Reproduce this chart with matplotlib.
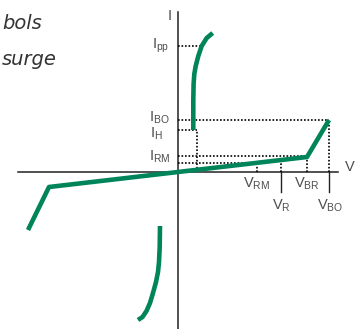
import matplotlib
matplotlib.use("Agg")
import matplotlib.pyplot as plt

# I-V characteristic (arbitrary units, origin at axis crossing)
v_main = [-150, -129, 129, 151]
i_main = [-58, -15, 15, 52]

v_upper = [15.3, 15.3, 15.6, 16.3, 17.7, 20.3, 23.7, 28.7, 34.7]
i_upper = [42, 72, 88, 98, 106, 116, 126, 134, 139]

v_lower = [-18, -18.3, -19.0, -20.0, -22.0, -25.0, -28.0, -31.5, -35.5, -40]
i_lower = [-54, -75, -90, -100, -110, -121, -131, -139, -145, -148]

# characteristic points
I_PP, I_BO, I_H, I_RM, I_R = 126, 52, 42, 16, 9
V_H, V_RM, V_R, V_BR, V_BO = 19, 79, 103, 129, 151

green = "#00845a"
grey = "#4d4d4d"

fig = plt.figure(figsize=(3.58, 3.29), dpi=100)
ax = fig.add_axes([0, 0, 1, 1])
ax.set_xlim(-178, 180)
ax.set_ylim(-157, 172)
ax.axis("off")

# axes
ax.plot([-160, 160], [0, 0], color="#222222", lw=1.1, zorder=2)
ax.plot([0, 0], [-157, 160], color="#222222", lw=1.1, zorder=2)

# little solid ticks under V axis
for v in (V_R, V_BO):
    ax.plot([v, v], [0, -20], color="#222222", lw=1.0, zorder=2)

dot = dict(color="black", lw=1.2, dashes=(1, 1.1), zorder=3)
# horizontal dotted guides
ax.plot([0, 23], [I_PP, I_PP], **dot)
ax.plot([0, V_BO], [I_BO, I_BO], **dot)
ax.plot([0, V_H], [I_H, I_H], **dot)
ax.plot([0, V_BR], [I_RM, I_RM], **dot)
ax.plot([0, V_RM], [I_R, I_R], **dot)
# vertical dotted guides
ax.plot([V_H, V_H], [0, I_H], **dot)
ax.plot([V_RM, V_RM], [0, I_R], **dot)
ax.plot([V_R, V_R], [0, 12], **dot)
ax.plot([V_BR, V_BR], [0, I_RM], **dot)
ax.plot([V_BO, V_BO], [0, I_BO], **dot)

# curves
ax.plot(v_main, i_main, color=green, lw=3.3, solid_capstyle="butt", zorder=4)
ax.plot(v_upper, i_upper, color=green, lw=3.3, solid_capstyle="butt", zorder=4)
ax.plot(v_lower, i_lower, color=green, lw=3.3, solid_capstyle="butt", zorder=4)

# labels
lab = dict(color=grey, fontsize=10.5, family="Liberation Sans")
ax.text(-8, 156, "I", ha="center", va="center", **lab)
ax.text(172, 5, "V", ha="center", va="center", **lab)
ax.text(-9, 126, r"$\mathregular{I_{pp}}$", ha="right", va="center", **lab)
ax.text(-8, 54, r"$\mathregular{I_{BO}}$", ha="right", va="center", **lab)
ax.text(-15, 38, r"$\mathregular{I_{H}}$", ha="right", va="center", **lab)
ax.text(-8, 15, r"$\mathregular{I_{RM}}$", ha="right", va="center", **lab)
ax.text(V_RM, -12, r"$\mathregular{V_{RM}}$", ha="center", va="center", **lab)
ax.text(V_R, -34, r"$\mathregular{V_{R}}$", ha="center", va="center", **lab)
ax.text(V_BR, -12, r"$\mathregular{V_{BR}}$", ha="center", va="center", **lab)
ax.text(V_BO + 1, -34, r"$\mathregular{V_{BO}}$", ha="center", va="center", **lab)

# clipped caption text at top left
cap = dict(color="#333333", fontsize=14, family="DejaVu Sans", style="oblique",
           ha="right", va="baseline")
ax.text(-136, 143, "bols", **cap)
ax.text(-121, 107, "surge", **cap)

fig.savefig("out.png", dpi=100)
